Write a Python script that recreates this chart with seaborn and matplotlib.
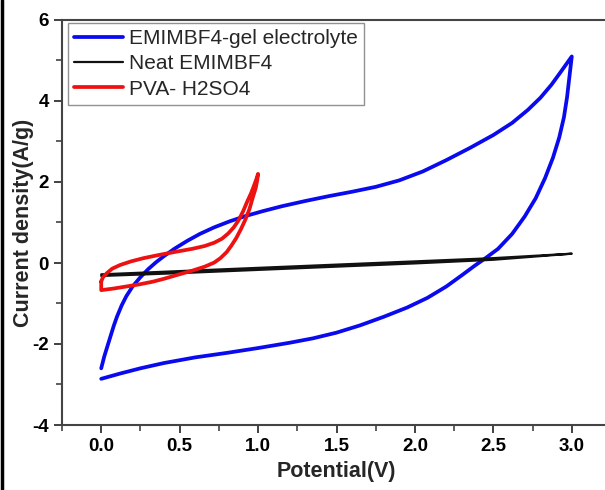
import matplotlib
matplotlib.use("Agg")
import matplotlib.pyplot as plt
from matplotlib.lines import Line2D
from matplotlib.ticker import MultipleLocator
import seaborn as sns
import pandas as pd

# EMIMBF4-gel electrolyte (anodic sweep then cathodic sweep)
gel_v = [0.0, 0.02, 0.04, 0.06, 0.08, 0.10, 0.13, 0.16, 0.20, 0.25, 0.30, 0.35, 0.40, 0.47,
         0.55, 0.63, 0.72, 0.82, 0.92, 1.03, 1.15, 1.30, 1.45, 1.60, 1.75, 1.90, 2.05, 2.20,
         2.35, 2.50, 2.62, 2.72, 2.80, 2.87, 2.93, 3.00,
         2.985, 2.97, 2.95, 2.92, 2.88, 2.83, 2.77, 2.70, 2.62, 2.53, 2.45, 2.38, 2.30, 2.20,
         2.08, 1.95, 1.80, 1.65, 1.50, 1.35, 1.20, 1.00, 0.80, 0.60, 0.40, 0.25, 0.12, 0.0]
gel_i = [-2.60, -2.30, -2.05, -1.80, -1.55, -1.33, -1.05, -0.82, -0.58, -0.35, -0.15, 0.02, 0.17, 0.36,
         0.55, 0.72, 0.88, 1.03, 1.16, 1.28, 1.40, 1.53, 1.65, 1.76, 1.88, 2.04, 2.26, 2.54,
         2.84, 3.16, 3.46, 3.78, 4.08, 4.40, 4.72, 5.10,
         4.60, 4.10, 3.60, 3.10, 2.60, 2.10, 1.60, 1.15, 0.72, 0.35, 0.12, -0.07, -0.30, -0.58,
         -0.86, -1.10, -1.33, -1.54, -1.72, -1.86, -1.97, -2.10, -2.22, -2.33, -2.47, -2.60, -2.73, -2.86]

# Neat EMIMBF4
neat_v = [0.0, 0.5, 1.0, 1.5, 2.0, 2.5, 3.0, 2.5, 2.0, 1.5, 1.0, 0.5, 0.0]
neat_i = [-0.28, -0.20, -0.12, -0.04, 0.04, 0.12, 0.23, 0.08, -0.01, -0.09, -0.17, -0.25, -0.32]

# PVA- H2SO4
pva_v = [0.0, 0.01, 0.036, 0.07, 0.12, 0.19, 0.27, 0.37, 0.48, 0.58, 0.66, 0.72, 0.77, 0.81,
         0.845, 0.875, 0.905, 0.93, 0.955, 0.975, 0.99, 1.0,
         0.995, 0.985, 0.965, 0.945, 0.92, 0.89, 0.86, 0.83, 0.80, 0.76, 0.72, 0.66, 0.58,
         0.48, 0.40, 0.33, 0.24, 0.16, 0.08, 0.02, 0.0, 0.0]
pva_i = [-0.46, -0.36, -0.25, -0.14, -0.05, 0.04, 0.12, 0.20, 0.28, 0.35, 0.42, 0.50, 0.60, 0.73,
         0.88, 1.05, 1.28, 1.51, 1.72, 1.92, 2.08, 2.20,
         2.05, 1.85, 1.60, 1.33, 1.08, 0.83, 0.61, 0.43, 0.27, 0.12, 0.01, -0.09, -0.19,
         -0.30, -0.39, -0.46, -0.53, -0.58, -0.63, -0.66, -0.67, -0.46]

labels = ["EMIMBF4-gel electrolyte", "Neat EMIMBF4", "PVA- H2SO4"]
colors = ["#0A0AEE", "#111111", "#EE1111"]
widths = [2.7, 1.6, 2.7]

xticks = [0.0, 0.5, 1.0, 1.5, 2.0, 2.5, 3.0]
yticks = [-4, -2, 0, 2, 4, 6]

sns.set_theme(style="ticks")
plt.rcParams["font.family"] = ["Liberation Sans", "DejaVu Sans"]

fig = plt.figure(figsize=(6.05, 4.9), dpi=100)
ax = fig.add_axes([62/605, 1-425/490, 549/605, 405/490])

series = [(gel_v, gel_i), (neat_v, neat_i), (pva_v, pva_i)]
for (v, i), lab, c, w in zip(series, labels, colors, widths):
    df = pd.DataFrame({"V": v, "I": i})
    sns.lineplot(data=df, x="V", y="I", sort=False, estimator=None, color=c,
                 linewidth=w, ax=ax, label=lab)

ax.set_xlim(-0.25, 3.25)
ax.set_ylim(-4, 6)
ax.set_xticks(xticks)
ax.set_xticklabels([f"{t:.1f}" for t in xticks])
ax.set_yticks(yticks)
ax.set_yticklabels([str(t) for t in yticks])
ax.xaxis.set_minor_locator(MultipleLocator(0.25))
ax.yaxis.set_minor_locator(MultipleLocator(1))
ax.tick_params(which="major", direction="out", length=6, width=1.3, colors="#333333",
               labelsize=13.5, labelcolor="black")
ax.tick_params(which="minor", direction="out", length=4, width=1.1, colors="#333333")
for lab in ax.get_xticklabels() + ax.get_yticklabels():
    lab.set_fontweight("bold")
for s in ax.spines.values():
    s.set_color("#444444")
    s.set_linewidth(1.5)

ax.set_xlabel("Potential(V)", fontsize=15.5, fontweight="bold", labelpad=4)
ax.set_ylabel("Current density(A/g)", fontsize=15.5, fontweight="bold", labelpad=-1)

handles = [Line2D([], [], color=c, lw=w) for c, w in zip(colors, widths)]
leg = ax.legend(handles, labels, loc="upper left", bbox_to_anchor=(0.0104, 0.9926),
                borderaxespad=0, fontsize=15, frameon=True, fancybox=False,
                handlelength=2.35, handletextpad=0.3, labelspacing=0.3, borderpad=0.3)
leg.get_frame().set_edgecolor("#777777")
leg.get_frame().set_linewidth(1.0)

fig.add_artist(Line2D([0.004, 0.004], [0, 1], color="black", lw=2.5, transform=fig.transFigure))

fig.savefig("out.png", dpi=100)
